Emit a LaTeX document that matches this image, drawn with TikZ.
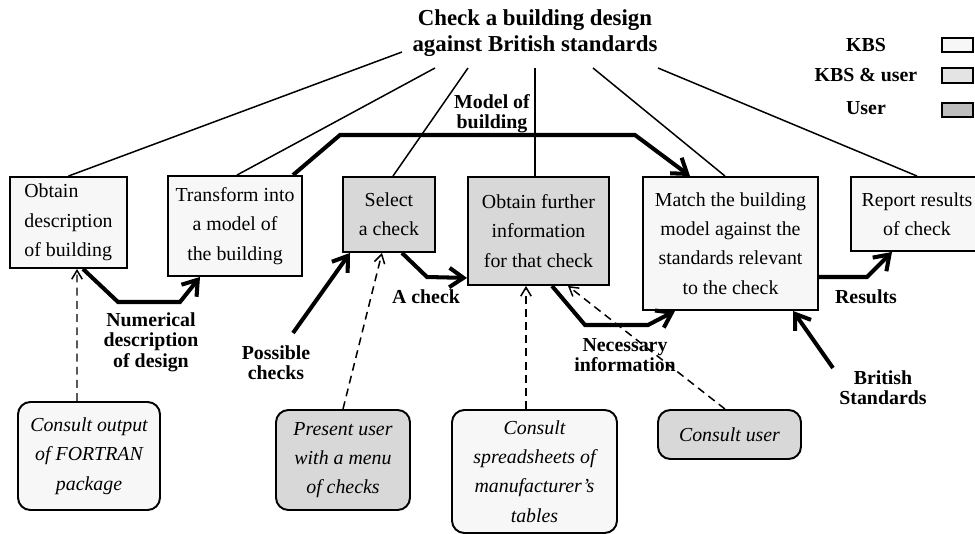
\documentclass[tikz,border=0pt]{standalone}
\usepackage{fontspec}
\setmainfont{Liberation Serif}
\usetikzlibrary{arrows.meta,calc}
\definecolor{kbs}{HTML}{F7F7F7}
\definecolor{kbsuser}{HTML}{D8D8D8}
\definecolor{legkbsuser}{HTML}{E4E4E4}
\definecolor{leguser}{HTML}{BEBEBE}
\begin{document}
\begin{tikzpicture}[x=0.02cm,y=-0.02cm,
 box/.style={draw, line width=1.1pt, inner sep=0pt, align=center, font=\fontsize{11.3}{16.7}\selectfont},
 kbsbox/.style={box, fill=kbs},
 usrbox/.style={box, fill=kbsuser},
 src/.style={draw, line width=1.1pt, rounded corners=7pt, inner sep=0pt, align=center, font=\fontsize{11.3}{16.7}\selectfont\itshape},
 lbl/.style={font=\fontsize{11.3}{11.6}\selectfont\bfseries, align=center, inner sep=0pt},
 legbox/.style={draw, line width=1.1pt, inner sep=0pt, minimum width=0.62cm, minimum height=0.29cm},
 tline/.style={line width=0.85pt},
 flow/.style={line width=2.3pt, -{Straight Barb[length=8pt,width=11pt]}},
 aux/.style={line width=0.85pt, dash pattern=on 4.5pt off 3pt, -{Straight Barb[length=5pt,width=6pt]}},
]
\useasboundingbox (0,0) rectangle (975,534);

% title
\node[font=\fontsize{13}{14.6}\selectfont\bfseries, align=center, inner sep=0pt] (title) at (535,33)
  {Check a building design\\against British standards};

% legend
\node[lbl] (lkt) at (866,45) {KBS};
\node[lbl] (lkut) at (866,75) {KBS \& user};
\node[lbl] (lut) at (866,108) {User};
\node[legbox, fill=kbs] (lk) at (957.5,45) {};
\node[legbox, fill=legkbsuser] (lku) at (957.5,75.5) {};
\node[legbox, fill=leguser] (lu) at (957.5,110) {};

% main boxes
\node[kbsbox, minimum width=2.34cm, minimum height=1.82cm, align=left] (b1) at (68.5,222.5)
  {Obtain\\description\\of building};
\node[kbsbox, minimum width=2.68cm, minimum height=2.0cm] (b2) at (235,226)
  {Transform into\\a model of\\the building};
\node[usrbox, minimum width=1.84cm, minimum height=1.5cm] (b3) at (389,214.5)
  {Select\\a check};
\node[usrbox, minimum width=2.82cm, minimum height=2.16cm] (b4) at (538.5,231)
  {Obtain further\\information\\for that check};
\node[kbsbox, minimum width=3.5cm, minimum height=2.66cm] (b5) at (730.5,243.5)
  {Match the building\\model against the\\standards relevant\\to the check};
\node[kbsbox, minimum width=2.64cm, minimum height=1.48cm] (b6) at (917,214)
  {Report results\\of check};

% source boxes
\node[src, fill=kbs, minimum width=2.84cm, minimum height=2.16cm] (s1) at (89,456)
  {Consult output\\of FORTRAN\\package};
\node[src, fill=kbsuser, minimum width=2.68cm, minimum height=2.0cm] (s2) at (343,460)
  {Present user\\with a menu\\of checks};
\node[src, fill=kbs, minimum width=3.3cm, minimum height=2.46cm] (s3) at (534.5,471.5)
  {Consult\\spreadsheets of\\manufacturer’s\\tables};
\node[src, fill=kbsuser, minimum width=2.86cm, minimum height=0.98cm] (s4) at (729.5,434.5)
  {Consult user};

% title connectors
\coordinate (t1) at (402,52);
\coordinate (t2) at (435,68);
\coordinate (t3) at (468,68);
\coordinate (t4) at (535,68);
\coordinate (t5) at (593,68);
\coordinate (t6) at (658,68);
\draw[tline] (t1) -- (b1.north);
\draw[tline] (t2) -- ($(b2.north)+(2,0)$);
\draw[tline] (t3) -- ($(b3.north)+(4,0)$);
\draw[tline] (t4) -- (t4 |- b4.north);
\draw[tline] (t5) -- ($(b5.north)+(-5.5,0)$);
\draw[tline] (t6) -- (b6.north);

% labels
\node[lbl] (l1) at (151,342) {Numerical\\description\\of design};
\node[lbl] (l2) at (492,114) {Model of\\building};
\node[lbl] (l3) at (276,363) {Possible\\checks};
\node[lbl] (l4) at (426,297) {A check};
\node[lbl] (l5) at (625,355) {Necessary\\information};
\node[lbl] (l6) at (866,297) {Results};
\node[lbl] (l7) at (883,388) {British\\Standards};

% flows
\draw[flow] ($(b1.south)+(14.5,0)$) -- (118,302) -- (180,302) -- ($(b2.south)+(-35,0)$);
\draw[flow] ($(b2.north)+(58,0)$) -- (340,135) -- (635,135) -- ($(b5.north)+(-40.5,0)$);
\coordinate (pc) at (293,333);
\draw[flow] (pc) -- ($(b3.south)+(-39,0)$);
\draw[flow] ($(b3.south)+(13,0)$) -- (427,277) -- ($(b4.south west)+(0,-8)$);
\draw[flow] ($(b4.south)+(13.5,0)$) -- (585,325) -- (648,325) -- ($(b5.south)+(-55.5,0)$);
\draw[flow] ($(b5.east)+(0,33.5)$) -- (867,277) -- ($(b6.south)+(-25,0)$);
\coordinate (bs) at (833,368);
\draw[flow] (bs) -- ($(b5.south)+(62.5,0)$);

% auxiliary (dashed)
\draw[aux] ($(s1.north)+(-12,0)$) -- ($(b1.south)+(8.5,0)$);
\draw[aux] (s2.north) -- ($(b3.south)+(-7,0)$);
\draw[aux] ($(s3.north)+(-8.5,0)$) -- ($(b4.south)+(-12.5,0)$);
\draw[aux] ($(s4.north)+(-4.5,0)$) -- ($(b4.south)+(29.5,0)$);
\end{tikzpicture}
\end{document}
